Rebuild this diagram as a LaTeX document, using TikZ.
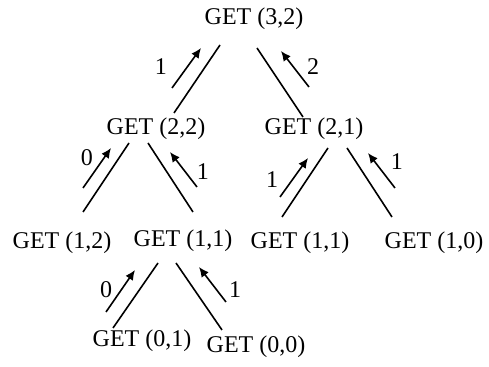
\documentclass[tikz,border=0pt]{standalone}
\usepackage{fontspec}
\setmainfont{Liberation Serif}
\usetikzlibrary{arrows.meta,positioning}

\begin{document}
\begin{tikzpicture}[
    x=0.5pt, y=-0.5pt,
    every node/.style={inner sep=0pt, font=\fontsize{12}{14.4}\selectfont},
    call/.style={text centered},
    link/.style={line width=0.8pt},
    ret/.style={line width=0.8pt, -{Latex[length=5pt,width=4.5pt]}},
    lbl/.style={font=\fontsize{12}{14.4}\selectfont}
]
\useasboundingbox (0,0) rectangle (489,367);

% Calls
\node[call] (c32) at (254,19) {GET (3,2)};
\node[call] (c22) at (156,129) {GET (2,2)};
\node[call] (c21) at (314,129) {GET (2,1)};
\node[call] (c12) at (62,243) {GET (1,2)};
\node[call] (c11a) at (183,241) {GET (1,1)};
\node[call] (c11b) at (300,243) {GET (1,1)};
\node[call] (c10) at (434,243) {GET (1,0)};
\node[call] (c01) at (142,341) {GET (0,1)};
\node[call] (c00) at (256,347) {GET (0,0)};

% Recursive calls
\draw[link] ([shift={(-34,26)}]c32.center) -- ([shift={(18,-16)}]c22.center);
\draw[link] ([shift={(3,29)}]c32.center) -- ([shift={(-11,-12)}]c21.center);
\draw[link] ([shift={(-27,14)}]c22.center) -- ([shift={(21,-31)}]c12.center);
\draw[link] ([shift={(-8,14)}]c22.center) -- ([shift={(10,-29)}]c11a.center);
\draw[link] ([shift={(14,19)}]c21.center) -- ([shift={(-18,-26)}]c11b.center);
\draw[link] ([shift={(33,19)}]c21.center) -- ([shift={(-42,-26)}]c10.center);
\draw[link] ([shift={(-25,22)}]c11a.center) -- ([shift={(-29,-13)}]c01.center);
\draw[link] ([shift={(-7,22)}]c11a.center) -- ([shift={(-34,-17)}]c00.center);

% Returned values
\draw[ret] ([shift={(16,-41)}]c22.center) -- ([shift={(-53,29)}]c32.center)
    node[lbl, pos=.5, xshift=-12.75pt, yshift=0.5pt] {1};
\draw[ret] ([shift={(-5,-42)}]c21.center) -- ([shift={(27,32)}]c32.center)
    node[lbl, pos=.5, xshift=9pt, yshift=1pt] {2};
\draw[ret] ([shift={(21,-55)}]c12.center) -- ([shift={(-45,19)}]c22.center)
    node[lbl, pos=.75, xshift=-8.5pt] {0};
\draw[ret] ([shift={(14,-54)}]c11a.center) -- ([shift={(14,23)}]c22.center)
    node[lbl, pos=.5, xshift=9.75pt, yshift=-1pt] {1};
\draw[ret] ([shift={(-20,-46)}]c11b.center) -- ([shift={(-6,29)}]c21.center)
    node[lbl, pos=.5, xshift=-11pt, yshift=-1pt] {1};
\draw[ret] ([shift={(-39,-55)}]c10.center) -- ([shift={(54,24)}]c21.center)
    node[lbl, pos=.75, xshift=11pt] {1};
\draw[ret] ([shift={(-36,-29)}]c01.center) -- ([shift={(-48,29)}]c11a.center)
    node[lbl, pos=.5, xshift=-7.25pt, yshift=0.5pt] {0};
\draw[ret] ([shift={(-30,-45)}]c00.center) -- ([shift={(16,26)}]c11a.center)
    node[lbl, pos=.5, xshift=11.25pt, yshift=-2.75pt] {1};

\end{tikzpicture}
\end{document}
